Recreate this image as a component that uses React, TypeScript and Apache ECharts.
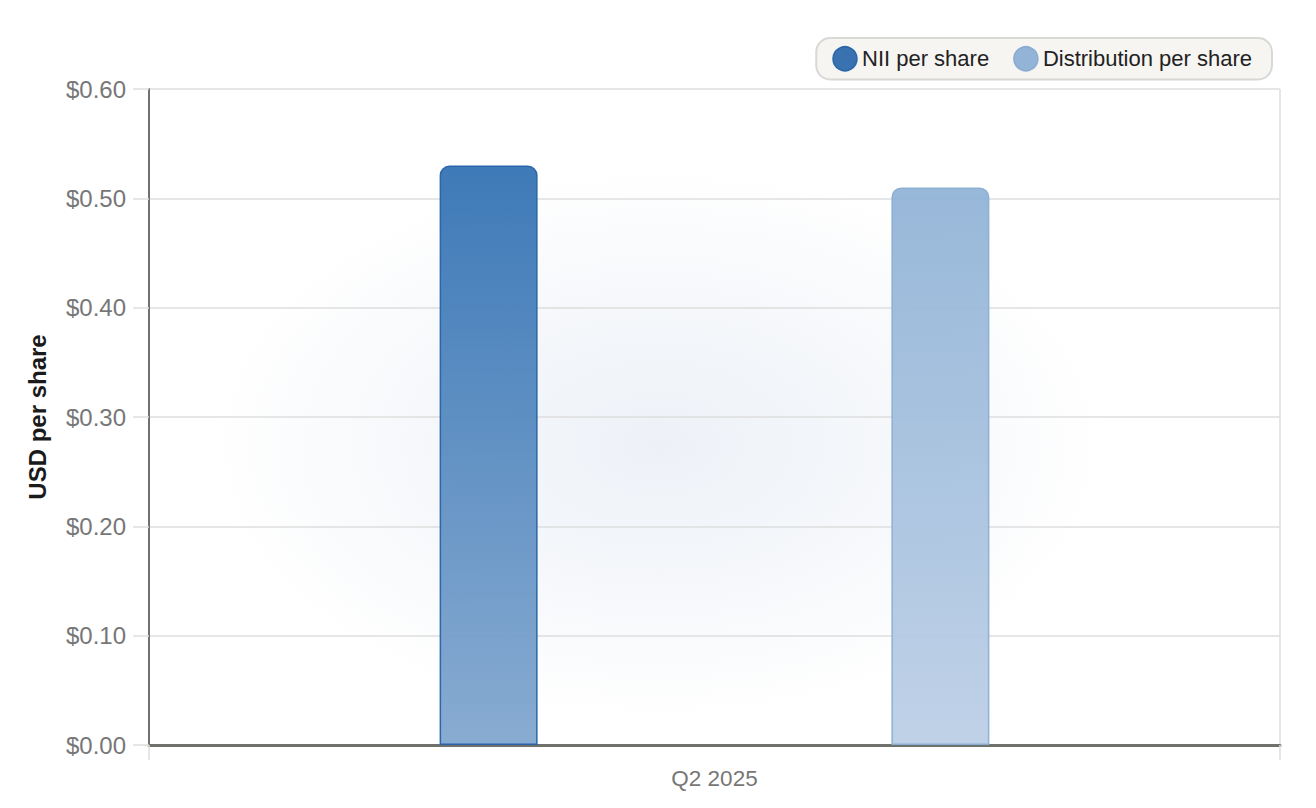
import { useEffect, useRef } from "react";
import * as echarts from "echarts";

const categories = ["Q2 2025"];
const niiPerShare = [0.53];
const distributionPerShare = [0.51];
const yTicks = { min: 0, max: 0.6, interval: 0.1 };

const FONT = "Liberation Sans, Arial, sans-serif";

export default function App() {
  const ref = useRef<HTMLDivElement | null>(null);

  useEffect(() => {
    if (!ref.current) return;
    const chart = echarts.init(ref.current, null, { renderer: "svg" });

    chart.setOption({
      animation: false,
      textStyle: { fontFamily: FONT },
      graphic: [
        {
          type: "rect",
          z: -10,
          silent: true,
          shape: { x: 0, y: 0, width: 1316, height: 808 },
          style: {
            fill: new echarts.graphic.RadialGradient(0.5, 0.55, 0.34, [
              { offset: 0, color: "#edf1f7" },
              { offset: 0.55, color: "#f6f8fb" },
              { offset: 1, color: "#ffffff" },
            ]),
          },
        },
      ],
      legend: {
        right: 44,
        top: 38,
        padding: [8, 20, 8, 16],
        backgroundColor: "#f6f5f2",
        borderColor: "#d8d8d6",
        borderWidth: 2,
        borderRadius: 14,
        icon: "circle",
        itemWidth: 24,
        itemHeight: 24,
        itemGap: 24,
        textStyle: { fontSize: 22, color: "#222", fontFamily: FONT, padding: [0, 0, 0, 0] },
        data: [
          { name: "NII per share", itemStyle: { color: "#2f6aad", borderColor: "#2462a6", borderWidth: 1.5 } },
          { name: "Distribution per share", itemStyle: { color: "#8db0d5", borderColor: "#86aad1", borderWidth: 1.5 } },
        ],
      },
      grid: { left: 149, right: 36, top: 89, bottom: 63, containLabel: false },
      xAxis: {
        type: "category",
        data: categories,
        axisLine: { lineStyle: { color: "#6f716c", width: 3 } },
        axisTick: { show: true, length: 15, lineStyle: { color: "#dedede", width: 1.5 } },
        splitLine: { show: true, lineStyle: { color: "#dedede", width: 1.5 } },
        axisLabel: { fontSize: 22.5, color: "#777", margin: 22, fontFamily: FONT },
      },
      yAxis: {
        type: "value",
        min: yTicks.min,
        max: yTicks.max,
        interval: yTicks.interval,
        name: "USD per share",
        nameLocation: "middle",
        nameGap: 100,
        nameTextStyle: { fontSize: 24, fontWeight: "bold", color: "#1a1a1a", fontFamily: FONT },
        axisLine: { show: true, lineStyle: { color: "#6f716c", width: 2 } },
        axisTick: { show: true, length: 16, lineStyle: { color: "#dedede", width: 1.5 } },
        splitLine: { lineStyle: { color: "#dedede", width: 1.5 } },
        axisLabel: {
          fontSize: 24,
          color: "#777",
          margin: 23,
          fontFamily: FONT,
          formatter: (v: number) => "$" + v.toFixed(2),
        },
      },
      series: [
        {
          name: "NII per share",
          type: "bar",
          data: niiPerShare,
          barWidth: 98,
          barGap: "361%",
          itemStyle: {
            borderRadius: [9, 9, 0, 0],
            borderColor: "#2562a6",
            borderWidth: 1.5,
            opacity: 0.95,
            color: new echarts.graphic.LinearGradient(0, 0, 0, 1, [
              { offset: 0, color: "#3473b4" },
              { offset: 1, color: "#82a7cf" },
            ]),
          },
        },
        {
          name: "Distribution per share",
          type: "bar",
          data: distributionPerShare,
          barWidth: 98,
          itemStyle: {
            borderRadius: [9, 9, 0, 0],
            borderColor: "#8aaed3",
            borderWidth: 1.5,
            opacity: 0.95,
            color: new echarts.graphic.LinearGradient(0, 0, 0, 1, [
              { offset: 0, color: "#92b4d7" },
              { offset: 1, color: "#bccfe6" },
            ]),
          },
        },
      ],
    });

    return () => chart.dispose();
  }, []);

  return <div ref={ref} style={{ width: 1316, height: 808, margin: -8 }} />;
}
